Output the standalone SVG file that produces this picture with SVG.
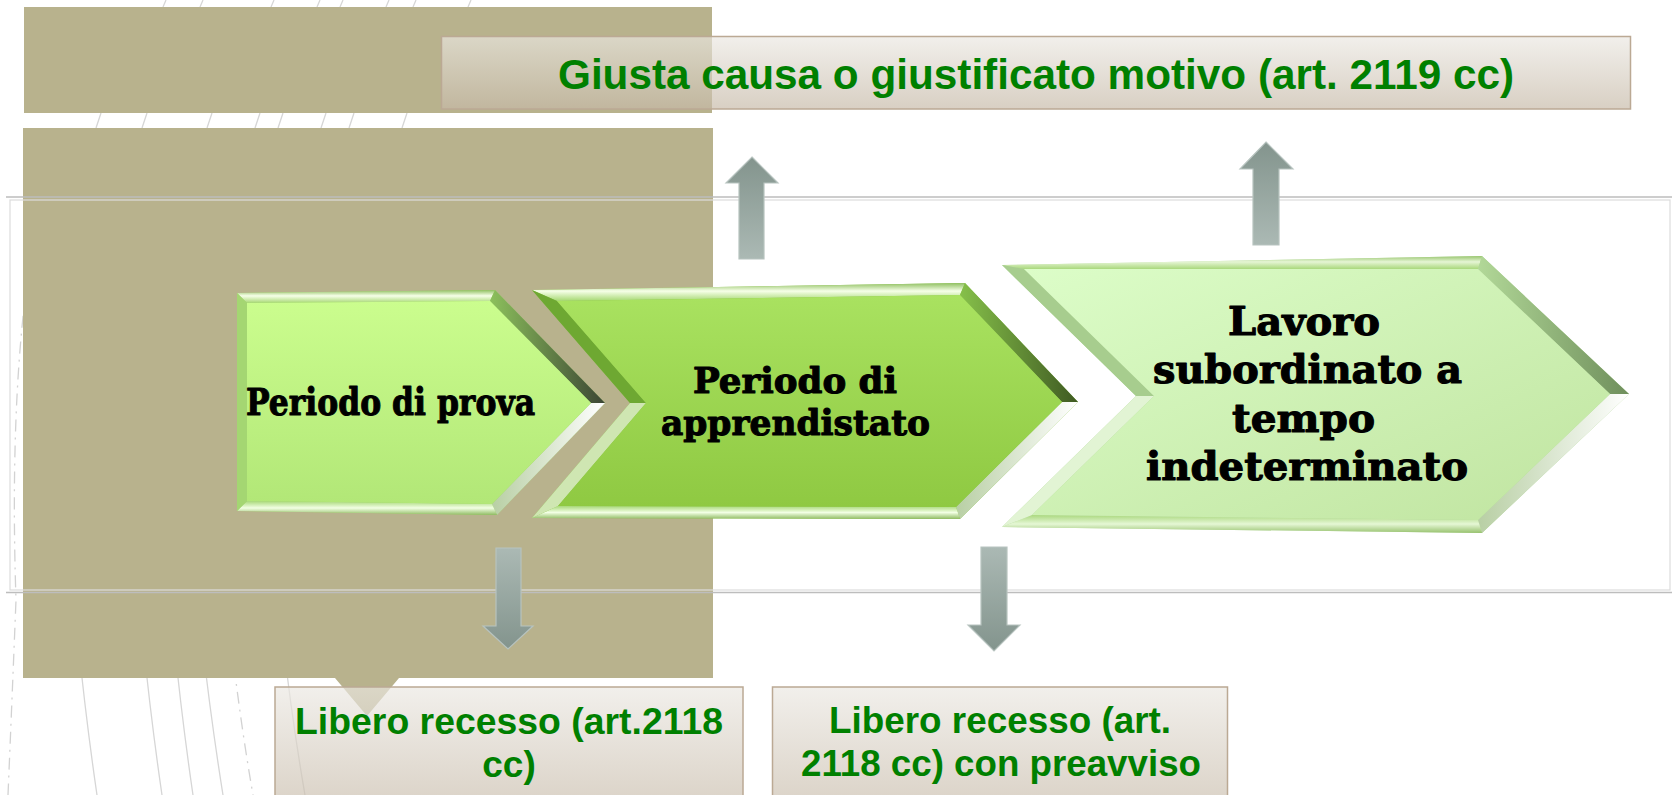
<svg xmlns="http://www.w3.org/2000/svg" width="1672" height="795" viewBox="0 0 1672 795">
<defs>
<style>
.deco{fill:none;stroke:#d6d6d6;stroke-width:1.3}
.dash{fill:none;stroke:#d2d2d2;stroke-width:1.3;stroke-dasharray:12 6 2 6}
.frame{fill:none;stroke:#dcdcdc;stroke-width:1.2}
.hline{stroke:#bdbdbd;stroke-width:1.5}
.tan{fill:#b8b28d}
.box{fill:url(#boxG);fill-opacity:0.68;stroke:#bba994;stroke-width:1.5}
.gtxt{font-family:"Liberation Sans",Arial,sans-serif;font-weight:bold;fill:#008000}
.ctxt{font-family:"DejaVu Serif","Liberation Serif",serif;font-weight:bold;fill:#000;stroke:#000;stroke-width:1.1;stroke-linejoin:round}
.arrow{stroke:#b7c3bf;stroke-width:1.2}
</style>
<linearGradient id="boxG" x1="0" y1="0" x2="0" y2="1">
<stop offset="0" stop-color="#ebe8e2"/><stop offset="1" stop-color="#c6b9a7"/>
</linearGradient>
<linearGradient id="downG" x1="0" y1="0" x2="0" y2="1">
<stop offset="0" stop-color="#abb9b4"/><stop offset="1" stop-color="#83948d"/>
</linearGradient>
<linearGradient id="upG" x1="0" y1="1" x2="0" y2="0">
<stop offset="0" stop-color="#abb9b4"/><stop offset="1" stop-color="#83948d"/>
</linearGradient>
<linearGradient id="f1" x1="0" y1="0" x2="0" y2="1">
<stop offset="0" stop-color="#cbfd8e"/><stop offset="1" stop-color="#b2e777"/>
</linearGradient>
<linearGradient id="f2" x1="0" y1="0" x2="0" y2="1">
<stop offset="0" stop-color="#a9e260"/><stop offset="1" stop-color="#8fc942"/>
</linearGradient>
<linearGradient id="f3" x1="0" y1="0" x2="1" y2="1">
<stop offset="0" stop-color="#dcfdc8"/><stop offset="1" stop-color="#c0e4a0"/>
</linearGradient>
<linearGradient id="topHi" x1="0" y1="0" x2="0" y2="1">
<stop offset="0" stop-color="#8fbf60"/><stop offset="0.45" stop-color="#f6ffe8"/><stop offset="1" stop-color="#a6d872"/>
</linearGradient>
<linearGradient id="dark1" x1="1" y1="0" x2="0" y2="0">
<stop offset="0" stop-color="#3c4634"/><stop offset="1" stop-color="#8cc05c"/>
</linearGradient>
<linearGradient id="dark2" x1="1" y1="0" x2="0" y2="0">
<stop offset="0" stop-color="#3f5a22"/><stop offset="1" stop-color="#86c04a"/>
</linearGradient>
<linearGradient id="dark3" x1="1" y1="0" x2="0" y2="0">
<stop offset="0" stop-color="#6f8f5c"/><stop offset="1" stop-color="#b2d898"/>
</linearGradient>
<linearGradient id="lightBR" x1="1" y1="0" x2="0" y2="0">
<stop offset="0" stop-color="#ffffff"/><stop offset="1" stop-color="#b8cfa4"/>
</linearGradient>
<linearGradient id="botHi" x1="0" y1="1" x2="0" y2="0">
<stop offset="0" stop-color="#8fbb62"/><stop offset="0.5" stop-color="#f2ffe4"/><stop offset="1" stop-color="#a8d878"/>
</linearGradient>
</defs>

<rect width="1672" height="795" fill="#ffffff"/>

<g id="background">
<path class="deco" d="M163,7 L166,0 M200,7 L203,0 M271,7 L274,0 M317,7 L320,0 M340,7 L343,0 M386,7 L389,0 M413,7 L416,0 M468,7 L471,0"/>
<path class="deco" d="M96,128 L101,113 M142,128 L147,113 M207,128 L212,113 M255,128 L260,113 M278,128 L283,113 M321,128 L326,113 M349,128 L354,113 M402,128 L407,113"/>
<path class="deco" d="M78,640 Q86,720 97,795 M143,640 Q151,720 162,795 M174,640 Q182,720 193,795 M202,640 Q211,720 223,795 M283,640 Q292,720 305,795"/>
<path class="dash" d="M231,640 Q240,720 253,795"/>
<path class="dash" d="M26,290 Q10,420 16,600 Q12,700 8,795"/>
<path class="tan" d="M24,7 H712 V113 H24 Z"/>
<path class="tan" d="M23,128 H713 V678 H399 L367,716 L335,678 H23 Z"/>
<rect class="frame" x="10" y="200" width="1660" height="390"/>
<line class="hline" x1="6" y1="197" x2="1672" y2="197"/>
<line class="hline" x1="6" y1="592.5" x2="1672" y2="592.5"/>
</g>

<g id="node-periodo-prova">
<polygon points="237,293 495,290 605,403 497,515 237,511" fill="#9fd06c"/>
<polygon points="237,293 495,290 490,301 247,303" fill="url(#topHi)"/>
<polygon points="495,290 605,403 591,403 490,301" fill="url(#dark1)"/>
<polygon points="605,403 497,515 492,504 591,403" fill="url(#lightBR)"/>
<polygon points="497,515 237,511 247,501 492,504" fill="url(#botHi)"/>
<polygon points="237,511 237,293 247,303 247,501" fill="#a4d672"/>
<polygon points="247,303 490,301 591,403 492,504 247,501" fill="url(#f1)"/>
<text class="ctxt" x="246" y="415" font-size="38" textLength="289" lengthAdjust="spacingAndGlyphs">Periodo di prova</text>
</g>

<g id="node-periodo-apprendistato">
<polygon points="532,290 965,283 1078,402 960,519 532,518 630,403" fill="#8cc24a"/>
<polygon points="532,290 965,283 960,295 557,301" fill="url(#topHi)"/>
<polygon points="965,283 1078,402 1062,402 960,295" fill="url(#dark2)"/>
<polygon points="1078,402 960,519 956,507 1062,402" fill="url(#lightBR)"/>
<polygon points="960,519 532,518 558,506 956,507" fill="url(#botHi)"/>
<polygon points="532,518 630,403 646,403 558,506" fill="#cfe6b2"/>
<polygon points="630,403 532,290 557,301 646,403" fill="#6ea832"/>
<polygon points="557,301 960,295 1062,402 956,507 558,506 646,403" fill="url(#f2)"/>
<text class="ctxt" x="693" y="393" font-size="36" textLength="204" lengthAdjust="spacingAndGlyphs">Periodo di</text>
<text class="ctxt" x="661" y="435" font-size="36" textLength="269" lengthAdjust="spacingAndGlyphs">apprendistato</text>
</g>

<g id="node-lavoro-indeterminato">
<polygon points="1002,265 1482,256 1629,394 1482,533 1002,527 1136,396" fill="#b4d89a"/>
<polygon points="1002,265 1482,256 1478,269 1024,269" fill="url(#topHi)" opacity="0.75"/>
<polygon points="1482,256 1629,394 1610,394 1478,269" fill="url(#dark3)"/>
<polygon points="1629,394 1482,533 1478,520 1610,394" fill="url(#lightBR)"/>
<polygon points="1482,533 1002,527 1032,515 1478,520" fill="url(#botHi)" opacity="0.8"/>
<polygon points="1002,527 1136,396 1154,396 1032,515" fill="#e2f4d4"/>
<polygon points="1136,396 1002,265 1024,269 1154,396" fill="#a7cd8e"/>
<polygon points="1024,269 1478,269 1610,394 1478,520 1032,515 1154,396" fill="url(#f3)"/>
<text class="ctxt" x="1228" y="335" font-size="39" textLength="152" lengthAdjust="spacingAndGlyphs">Lavoro</text>
<text class="ctxt" x="1153" y="383" font-size="39" textLength="309" lengthAdjust="spacingAndGlyphs">subordinato a</text>
<text class="ctxt" x="1232" y="432" font-size="39" textLength="143" lengthAdjust="spacingAndGlyphs">tempo</text>
<text class="ctxt" x="1146" y="480" font-size="39" textLength="322" lengthAdjust="spacingAndGlyphs">indeterminato</text>
</g>

<g id="connectors">
<polygon class="arrow" fill="url(#upG)" points="752,157 778,183 764,183 764,259 739,259 739,183 726,183"/>
<polygon class="arrow" fill="url(#upG)" points="1266,142 1293,169 1279,169 1279,245 1253,245 1253,169 1240,169"/>
<polygon class="arrow" fill="url(#downG)" points="496,548 521,548 521,626 533,626 508,649 483,626 496,626"/>
<polygon class="arrow" fill="url(#downG)" points="981,547 1007,547 1007,625 1020,625 994,651 968,625 981,625"/>
</g>

<g id="node-giusta-causa">
<rect class="box" x="441.5" y="36.5" width="1189" height="72.5"/>
<text class="gtxt" x="558" y="89" font-size="42" textLength="956" lengthAdjust="spacingAndGlyphs">Giusta causa o giustificato motivo (art. 2119 cc)</text>
</g>

<g id="node-libero-recesso">
<rect class="box" x="275" y="687" width="468" height="130"/>
<text class="gtxt" x="295" y="734" font-size="37" textLength="428" lengthAdjust="spacingAndGlyphs">Libero recesso (art.2118</text>
<text class="gtxt" x="509" y="777" font-size="37" text-anchor="middle">cc)</text>
</g>

<g id="node-libero-recesso-preavviso">
<rect class="box" x="772.5" y="687" width="455" height="130"/>
<text class="gtxt" x="829" y="733" font-size="37" textLength="342" lengthAdjust="spacingAndGlyphs">Libero recesso (art.</text>
<text class="gtxt" x="801" y="776" font-size="37" textLength="400" lengthAdjust="spacingAndGlyphs">2118 cc) con preavviso</text>
</g>
</svg>
